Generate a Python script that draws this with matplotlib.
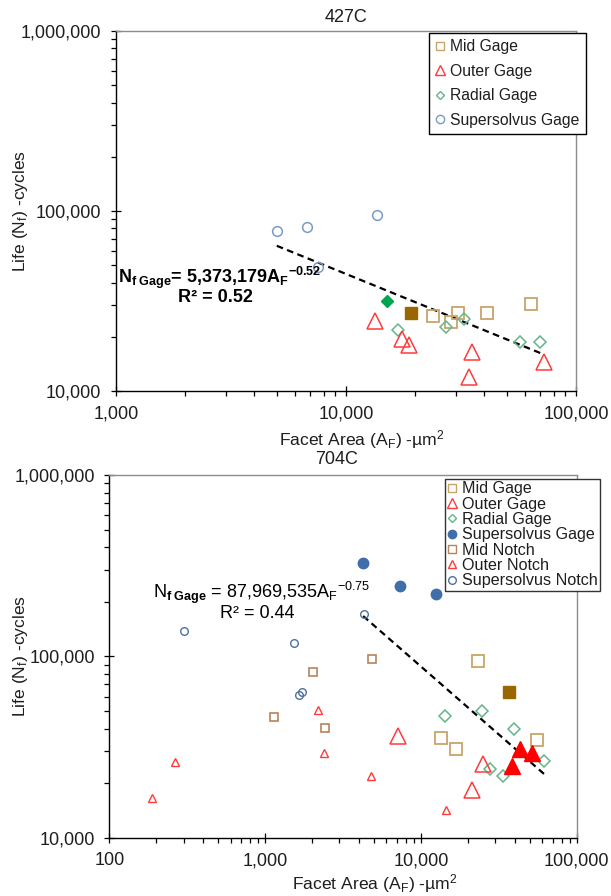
import matplotlib
matplotlib.use('Agg')
import matplotlib.pyplot as plt
from matplotlib.lines import Line2D
from matplotlib.ticker import LogLocator, FuncFormatter, NullFormatter
import numpy as np

plt.rcParams['font.family'] = ['Liberation Sans', 'DejaVu Sans']
plt.rcParams['mathtext.fontset'] = 'custom'
plt.rcParams['mathtext.rm'] = 'Liberation Sans'
plt.rcParams['mathtext.it'] = 'Liberation Sans:italic'
plt.rcParams['mathtext.bf'] = 'Liberation Sans:bold'
plt.rcParams['axes.unicode_minus'] = False

# ---------------- data: 427C ----------------
t_mid_x = [24000, 28600, 30600, 40900, 63500]
t_mid_y = [26200, 24300, 27200, 27000, 30400]
t_mid_fill_x = [19150]
t_mid_fill_y = [27000]
t_outer_x = [13400, 17600, 18700, 35400, 34300, 72600]
t_outer_y = [24500, 19400, 18000, 16500, 12000, 14500]
t_radial_x = [16900, 27200, 32500, 57100, 69700]
t_radial_y = [21800, 22800, 25000, 18800, 18800]
t_radial_fill_x = [15100]
t_radial_fill_y = [31800]
t_ss_x = [5000, 6750, 13700, 7530]
t_ss_y = [77800, 81500, 94700, 48700]
t_coef = 5373179
t_exp = -0.52
t_r2 = 0.52

# ---------------- data: 704C ----------------
b_mid_x = [23400, 13400, 16700, 55800]
b_mid_y = [93800, 35300, 30700, 34400]
b_mid_fill_x = [36700]
b_mid_fill_y = [63800]
b_outer_x = [7180, 25100, 21400]
b_outer_y = [36300, 25500, 18300]
b_outer_fill_x = [38600, 43000, 51300]
b_outer_fill_y = [24800, 30700, 29400]
b_radial_x = [14300, 24800, 39700, 61700, 27900, 33600]
b_radial_y = [46700, 49800, 39900, 26600, 23900, 21900]
b_ss_x = [4260, 7330, 12500]
b_ss_y = [326000, 243000, 221000]
b_midn_x = [4840, 2020, 1140, 2440]
b_midn_y = [97000, 81900, 46300, 40400]
b_outern_x = [2170, 2400, 264, 187, 4750, 14500]
b_outern_y = [50600, 29200, 26100, 16600, 21800, 14200]
b_ssn_x = [4300, 300, 1540, 1640, 1720]
b_ssn_y = [172000, 138000, 118000, 61000, 63600]
b_coef = 87969535
b_exp = -0.75
b_r2 = 0.44

# colours
TAN = '#C8A46A'
BROWN_FILL = '#996600'
RED = '#FF3B3B'
RED_FILL = '#FF0000'
GREEN = '#66B58A'
GREEN_FILL = '#00A550'
SS_OPEN = '#7B9AC9'
SS_FILL = '#3F6EAA'
MIDN = '#B8835A'
SSN = '#4F6F9F'
TXT = '#1e1e1e'

W, H = 611, 896
fig = plt.figure(figsize=(W / 100, H / 100), dpi=100)
fig.patch.set_facecolor('white')


def fx(px):
    return px / W


def fy(py):
    return 1 - py / H


def style_axes(ax, xmin, xmax):
    ax.set_xscale('log')
    ax.set_yscale('log')
    ax.set_xlim(xmin, xmax)
    ax.set_ylim(1e4, 1e6)
    fmt = FuncFormatter(lambda v, p: f"{int(round(v)):,}")
    for axis in (ax.xaxis, ax.yaxis):
        axis.set_major_locator(LogLocator(base=10, numticks=10))
        axis.set_minor_locator(LogLocator(base=10, subs=np.arange(2, 10), numticks=20))
        axis.set_major_formatter(fmt)
        axis.set_minor_formatter(NullFormatter())
    ax.tick_params(which='major', direction='inout', length=7, width=0.9,
                   labelsize=13, labelcolor=TXT, pad=7, top=False, right=False)
    ax.tick_params(which='minor', direction='out', length=3.6, width=0.9,
                   top=False, right=False)
    for s in ('left', 'bottom'):
        ax.spines[s].set_color('black')
        ax.spines[s].set_linewidth(1.0)
    for s in ('top', 'right'):
        ax.spines[s].set_color('#8c8c8c')
        ax.spines[s].set_linewidth(1.0)


def trend(ax, xs, coef, ex):
    allx = np.concatenate([np.asarray(a, float) for a in xs])
    xx = np.logspace(np.log10(allx.min()), np.log10(allx.max()), 50)
    ax.plot(xx, coef * xx ** ex, color='black', lw=1.6, ls=(0, (3, 2)), zorder=1)


# ================= top chart =================
ax1 = fig.add_axes([fx(116), fy(391), fx(576) - fx(116), fy(31) - fy(391)])
style_axes(ax1, 1e3, 1e5)
trend(ax1, [t_mid_x, t_mid_fill_x, t_outer_x, t_radial_x, t_radial_fill_x, t_ss_x], t_coef, t_exp)
ax1.plot(t_ss_x, t_ss_y, 'o', ls='', mfc='none', mec=SS_OPEN, ms=7, mew=1.1, zorder=3)
ax1.plot(t_mid_x, t_mid_y, 's', ls='', mfc='none', mec=TAN, ms=9, mew=1.3, zorder=3)
ax1.plot(t_mid_fill_x, t_mid_fill_y, 's', ls='', mfc=BROWN_FILL, mec=BROWN_FILL, ms=9, zorder=3)
ax1.plot(t_radial_x, t_radial_y, 'D', ls='', mfc='none', mec=GREEN, ms=6, mew=1.1, zorder=3)
ax1.plot(t_radial_fill_x, t_radial_fill_y, 'D', ls='', mfc=GREEN_FILL, mec=GREEN_FILL, ms=6, zorder=3)
ax1.plot(t_outer_x, t_outer_y, '^', ls='', mfc='none', mec=RED, ms=12, mew=1.1, zorder=3)

fig.text(fx(346), fy(17), '427C', ha='center', va='center', fontsize=13, color=TXT)
fig.text(fx(362), fy(440), r'Facet Area (A$_\mathregular{F}$) -µm$^\mathregular{2}$',
         ha='center', va='center', fontsize=12.6, color=TXT)
fig.text(fx(21), fy(211), r'Life (N$_\mathregular{f}$) -cycles', rotation=90,
         ha='center', va='center', fontsize=12.6, color=TXT)
fig.text(fx(118), fy(278), r'N$_\mathbf{f\ Gage}$= ' + f"{t_coef:,}" + r'A$_\mathbf{F}{}^\mathbf{' + f"{t_exp}" + '}$',
         ha='left', va='center', fontsize=13, fontweight='bold', color='black')
fig.text(fx(178), fy(298), f'R² = {t_r2:.2f}', ha='left', va='center',
         fontsize=13, fontweight='bold', color='black')

h1 = [
    Line2D([], [], marker='s', ls='', mfc='none', mec=TAN, ms=6, mew=1.0),
    Line2D([], [], marker='^', ls='', mfc='none', mec=RED, ms=7, mew=1.0),
    Line2D([], [], marker='D', ls='', mfc='none', mec=GREEN, ms=4.5, mew=1.0),
    Line2D([], [], marker='o', ls='', mfc='none', mec=SS_OPEN, ms=6, mew=1.0),
]
l1 = fig.legend(h1, ['Mid Gage', 'Outer Gage', 'Radial Gage', 'Supersolvus Gage'],
                loc='upper left', bbox_to_anchor=(fx(429), fy(33)), fontsize=11.3,
                frameon=True, fancybox=False, edgecolor='black', framealpha=1,
                handlelength=0.6, handletextpad=0.35, labelspacing=0.6,
                borderpad=0.4, borderaxespad=0)
l1.get_frame().set_linewidth(1.0)
for t in l1.get_texts():
    t.set_color(TXT)

# ================= bottom chart =================
ax2 = fig.add_axes([fx(109.3), fy(837.7), fx(576.7) - fx(109.3), fy(475) - fy(837.7)])
style_axes(ax2, 1e2, 1e5)
trend(ax2, [b_mid_x, b_mid_fill_x, b_outer_x, b_outer_fill_x, b_radial_x, b_ss_x], b_coef, b_exp)
ax2.plot(b_ssn_x, b_ssn_y, 'o', ls='', mfc='none', mec=SSN, ms=5.5, mew=1.0, zorder=3)
ax2.plot(b_midn_x, b_midn_y, 's', ls='', mfc='none', mec=MIDN, ms=5.5, mew=1.2, zorder=3)
ax2.plot(b_outern_x, b_outern_y, '^', ls='', mfc='none', mec=RED, ms=6, mew=1.0, zorder=3)
ax2.plot(b_ss_x, b_ss_y, 'o', ls='', mfc=SS_FILL, mec=SS_FILL, ms=7.5, zorder=3)
ax2.plot(b_mid_x, b_mid_y, 's', ls='', mfc='none', mec=TAN, ms=9, mew=1.3, zorder=3)
ax2.plot(b_mid_fill_x, b_mid_fill_y, 's', ls='', mfc=BROWN_FILL, mec=BROWN_FILL, ms=9, zorder=3)
ax2.plot(b_radial_x, b_radial_y, 'D', ls='', mfc='none', mec=GREEN, ms=6, mew=1.1, zorder=3)
ax2.plot(b_outer_x, b_outer_y, '^', ls='', mfc='none', mec=RED, ms=12, mew=1.1, zorder=3)
ax2.plot(b_outer_fill_x, b_outer_fill_y, '^', ls='', mfc=RED_FILL, mec=RED_FILL, ms=12, zorder=4)

fig.text(fx(337), fy(459), '704C', ha='center', va='center', fontsize=13, color=TXT)
fig.text(fx(375), fy(884), r'Facet Area (A$_\mathregular{F}$) -µm$^\mathregular{2}$',
         ha='center', va='center', fontsize=12.6, color=TXT)
fig.text(fx(21), fy(656), r'Life (N$_\mathregular{f}$) -cycles', rotation=90,
         ha='center', va='center', fontsize=12.6, color=TXT)
fig.text(fx(153), fy(593), r'N$_\mathbf{f\ Gage}$ = ' + f"{b_coef:,}" + r'A$_\mathregular{F}{}^\mathregular{' + f"{b_exp}" + '}$',
         ha='left', va='center', fontsize=13, color='black')
fig.text(fx(220), fy(614), f'R² = {b_r2:.2f}', ha='left', va='center',
         fontsize=13, color='black')

h2 = [
    Line2D([], [], marker='s', ls='', mfc='none', mec=TAN, ms=6, mew=1.0),
    Line2D([], [], marker='^', ls='', mfc='none', mec=RED, ms=7, mew=1.0),
    Line2D([], [], marker='D', ls='', mfc='none', mec=GREEN, ms=4.5, mew=1.0),
    Line2D([], [], marker='o', ls='', mfc=SS_FILL, mec=SS_FILL, ms=6),
    Line2D([], [], marker='s', ls='', mfc='none', mec=MIDN, ms=5.5, mew=1.0),
    Line2D([], [], marker='^', ls='', mfc='none', mec=RED, ms=6, mew=1.0),
    Line2D([], [], marker='o', ls='', mfc='none', mec=SSN, ms=5.5, mew=1.0),
]
l2 = fig.legend(h2, ['Mid Gage', 'Outer Gage', 'Radial Gage', 'Supersolvus Gage',
                     'Mid Notch', 'Outer Notch', 'Supersolvus Notch'],
                loc='upper left', bbox_to_anchor=(fx(445), fy(479)), fontsize=11.6,
                frameon=True, fancybox=False, edgecolor='#333333', framealpha=1,
                handlelength=0.6, handletextpad=0.3, labelspacing=0.02,
                borderpad=0.15, borderaxespad=0)
l2.get_frame().set_linewidth(1.0)
for t in l2.get_texts():
    t.set_color(TXT)

fig.savefig('out.png', dpi=100, facecolor='white')
